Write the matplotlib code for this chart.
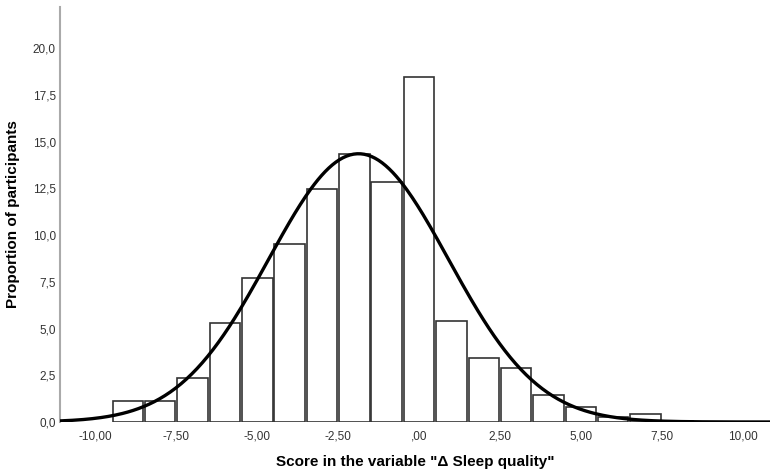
import numpy as np
import matplotlib
matplotlib.use('Agg')
import matplotlib.pyplot as plt

plt.rcParams['font.family'] = ['Liberation Sans', 'DejaVu Sans']

# histogram bins (centres) and proportion of participants (%)
centres = [-9, -8, -7, -6, -5, -4, -3, -2, -1, 0, 1, 2, 3, 4, 5, 6, 7, 8]
props = [1.12, 1.12, 2.37, 5.28, 7.68, 9.53, 12.44, 14.33, 12.85, 18.47,
         5.40, 3.42, 2.89, 1.44, 0.82, 0.25, 0.43, 0.08]

# fitted normal curve parameters
mean_score = -1.87
sd_score = 2.78

xticks = [-10, -7.5, -5, -2.5, 0, 2.5, 5, 7.5, 10]
xtick_labels = ['-10,00', '-7,50', '-5,00', '-2,50', ',00', '2,50', '5,00', '7,50', '10,00']
yticks = [0, 2.5, 5, 7.5, 10, 12.5, 15, 17.5, 20]
ytick_labels = ['0,0', '2,5', '5,0', '7,5', '10,0', '12,5', '15,0', '17,5', '20,0']

fig = plt.figure(figsize=(7.71, 4.70), dpi=100)
ax = fig.add_axes([60/771, 48/470, 710/771, 415/470])

ax.bar(centres, props, width=0.94, color='white', edgecolor='#333333', linewidth=1.2, zorder=2)

xs = np.linspace(-11.1, 10.85, 400)
ys = 100.0 / (sd_score * np.sqrt(2 * np.pi)) * np.exp(-0.5 * ((xs - mean_score) / sd_score) ** 2)
ax.plot(xs, ys, color='black', linewidth=2.4, zorder=3)

ax.set_xlim(-11.1, 10.85)
ax.set_ylim(0, 22.2)
ax.set_xticks(xticks)
ax.set_xticklabels(xtick_labels)
ax.set_yticks(yticks)
ax.set_yticklabels(ytick_labels)
ax.tick_params(length=0, labelsize=8.5, colors='#333333')
ax.tick_params(axis='x', pad=6)
ax.tick_params(axis='y', pad=3)

for s in ['top', 'right', 'bottom']:
    ax.spines[s].set_visible(False)
ax.spines['left'].set_color('#aaaaaa')
ax.spines['left'].set_linewidth(1.5)

ax.set_xlabel('Score in the variable "\u0394 Sleep quality"', fontsize=11, fontweight='bold')
ax.set_ylabel('Proportion of participants', fontsize=11, fontweight='bold')
ax.xaxis.set_label_coords(0.5, -0.096)
ax.yaxis.set_label_coords(-0.066, 0.5)
ax.xaxis.label.set_va('center')
ax.yaxis.label.set_va('center')

plt.savefig('out.png', dpi=100)
